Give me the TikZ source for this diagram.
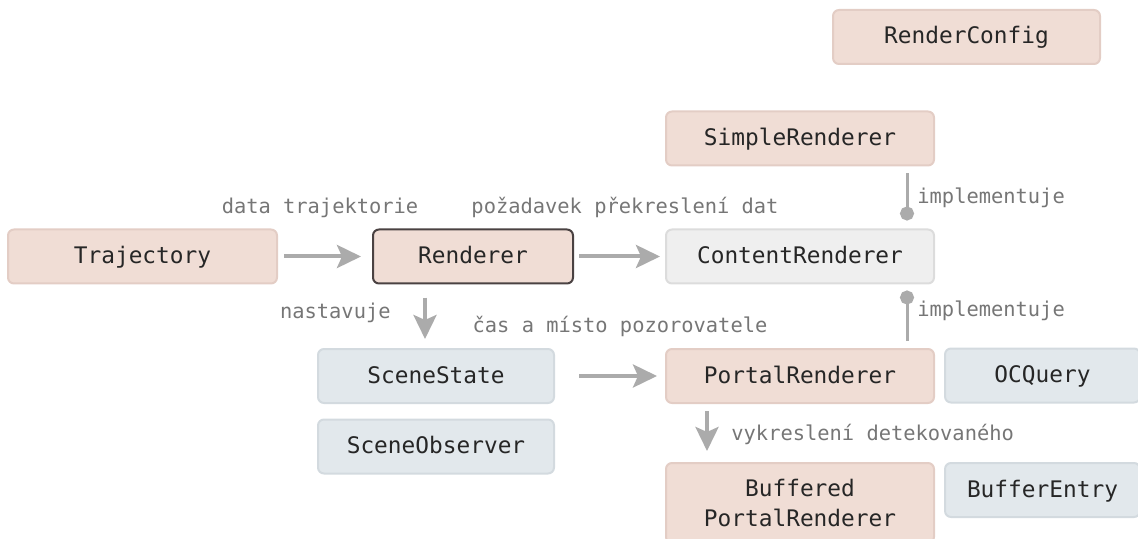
\documentclass[tikz,border=0pt]{standalone}
\usepackage{fontspec}
\setmonofont{DejaVu Sans Mono}
\usetikzlibrary{arrows.meta}

\definecolor{clsfill}{HTML}{F0DDD5}
\definecolor{clsline}{HTML}{E3CDC5}
\definecolor{ifacefill}{HTML}{EFEFEF}
\definecolor{ifaceline}{HTML}{DCDCDC}
\definecolor{datafill}{HTML}{E2E8EC}
\definecolor{dataline}{HTML}{D3DADF}
\definecolor{mainline}{HTML}{4A4242}
\definecolor{flowgray}{HTML}{ABABAB}
\definecolor{notegray}{HTML}{767676}

\begin{document}
\begin{tikzpicture}[x=0.5pt, y=-0.5pt,
		box/.style={rectangle, rounded corners=3pt, line width=1pt, minimum height=27pt, align=center,
			font=\ttfamily\fontsize{11.4}{15}\selectfont, text=black!85, text height=0.85em, text depth=0.15em},
		cls/.style={box, draw=clsline, fill=clsfill},
		iface/.style={box, draw=ifaceline, fill=ifacefill},
		datacls/.style={box, draw=dataline, fill=datafill},
		flow/.style={draw=flowgray, line width=2pt, -{Stealth[length=12pt, width=11.5pt, inset=2.5pt]}},
		impl/.style={draw=flowgray, line width=1.5pt, -{Circle[length=7pt]}},
		note/.style={font=\ttfamily\fontsize{10.2}{12}\selectfont, text=notegray, inner sep=0pt,
			text height=0.8em, text depth=0.2em}]
	\useasboundingbox (0,0) rectangle (1138,539);

	% Config
	\node[cls, minimum width=133.5pt] (config) at (966.5,37) {RenderConfig};

	% Main row
	\node[cls, minimum width=134.5pt] (traj) at (142.5,256.5) {Trajectory};
	\node[cls, draw=mainline, minimum width=100pt] (renderer) at (473,256.5) {Renderer};
	\node[iface, minimum width=134pt] (content) at (800,256.5) {ContentRenderer};
	\draw[flow, shorten <=3pt, shorten >=5.5pt] (traj) -- (renderer);
	\draw[flow, shorten <=2.5pt, shorten >=2.5pt] (renderer) -- (content);
	\node[note] (lbltraj) at (320,208) {data trajektorie};
	\node[note] (lblredraw) at (625,208) {požadavek překreslení dat};

	% Implementations of the content renderer
	\node[cls, minimum width=134pt] (simple) at (800,138.5) {SimpleRenderer};
	\node[cls, minimum width=134pt] (portal) at (800,376) {PortalRenderer};
	\draw[impl, shorten <=3.5pt, shorten >=4pt] ([xshift=53.5pt]simple.south) -- ([xshift=53.5pt]content.north);
	\draw[impl, shorten <=3.5pt, shorten >=3pt] ([xshift=53.5pt]portal.north) -- ([xshift=53.5pt]content.south);
	\node[note, anchor=west] (lblimpla) at (917,198) {implementuje};
	\node[note, anchor=west] (lblimplb) at (917,310) {implementuje};

	% Scene
	\node[datacls, minimum width=118pt] (sstate) at (436,376) {SceneState};
	\node[datacls, minimum width=118pt] (sobserver) at (436,446.5) {SceneObserver};
	\draw[flow, shorten <=6.5pt, shorten >=4.5pt] ([xshift=-24pt]renderer.south) -- ([xshift=-24pt]renderer.south |- sstate.north);
	\draw[flow, shorten <=12pt, shorten >=4pt] (sstate) -- (portal);
	\node[note, anchor=east] (lblsets) at (391,312) {nastavuje};
	\node[note] (lblobs) at (620,326) {čas a místo pozorovatele};

	% Portal helpers
	\node[datacls, minimum width=97.5pt] (ocquery) at (1042.5,375.5) {OCQuery};
	\node[cls, minimum width=134pt, minimum height=40pt, text height=, text depth=] (buffered) at (800,503) {Buffered\\PortalRenderer};
	\node[datacls, minimum width=97.5pt] (bentry) at (1042.5,490) {BufferEntry};
	\draw[flow, shorten <=3.5pt, shorten >=5.5pt] ([xshift=-46.5pt]portal.south) -- ([xshift=-46.5pt]portal.south |- buffered.north);
	\node[note, anchor=west] (lbldraw) at (731,434) {vykreslení detekovaného};
\end{tikzpicture}
\end{document}
